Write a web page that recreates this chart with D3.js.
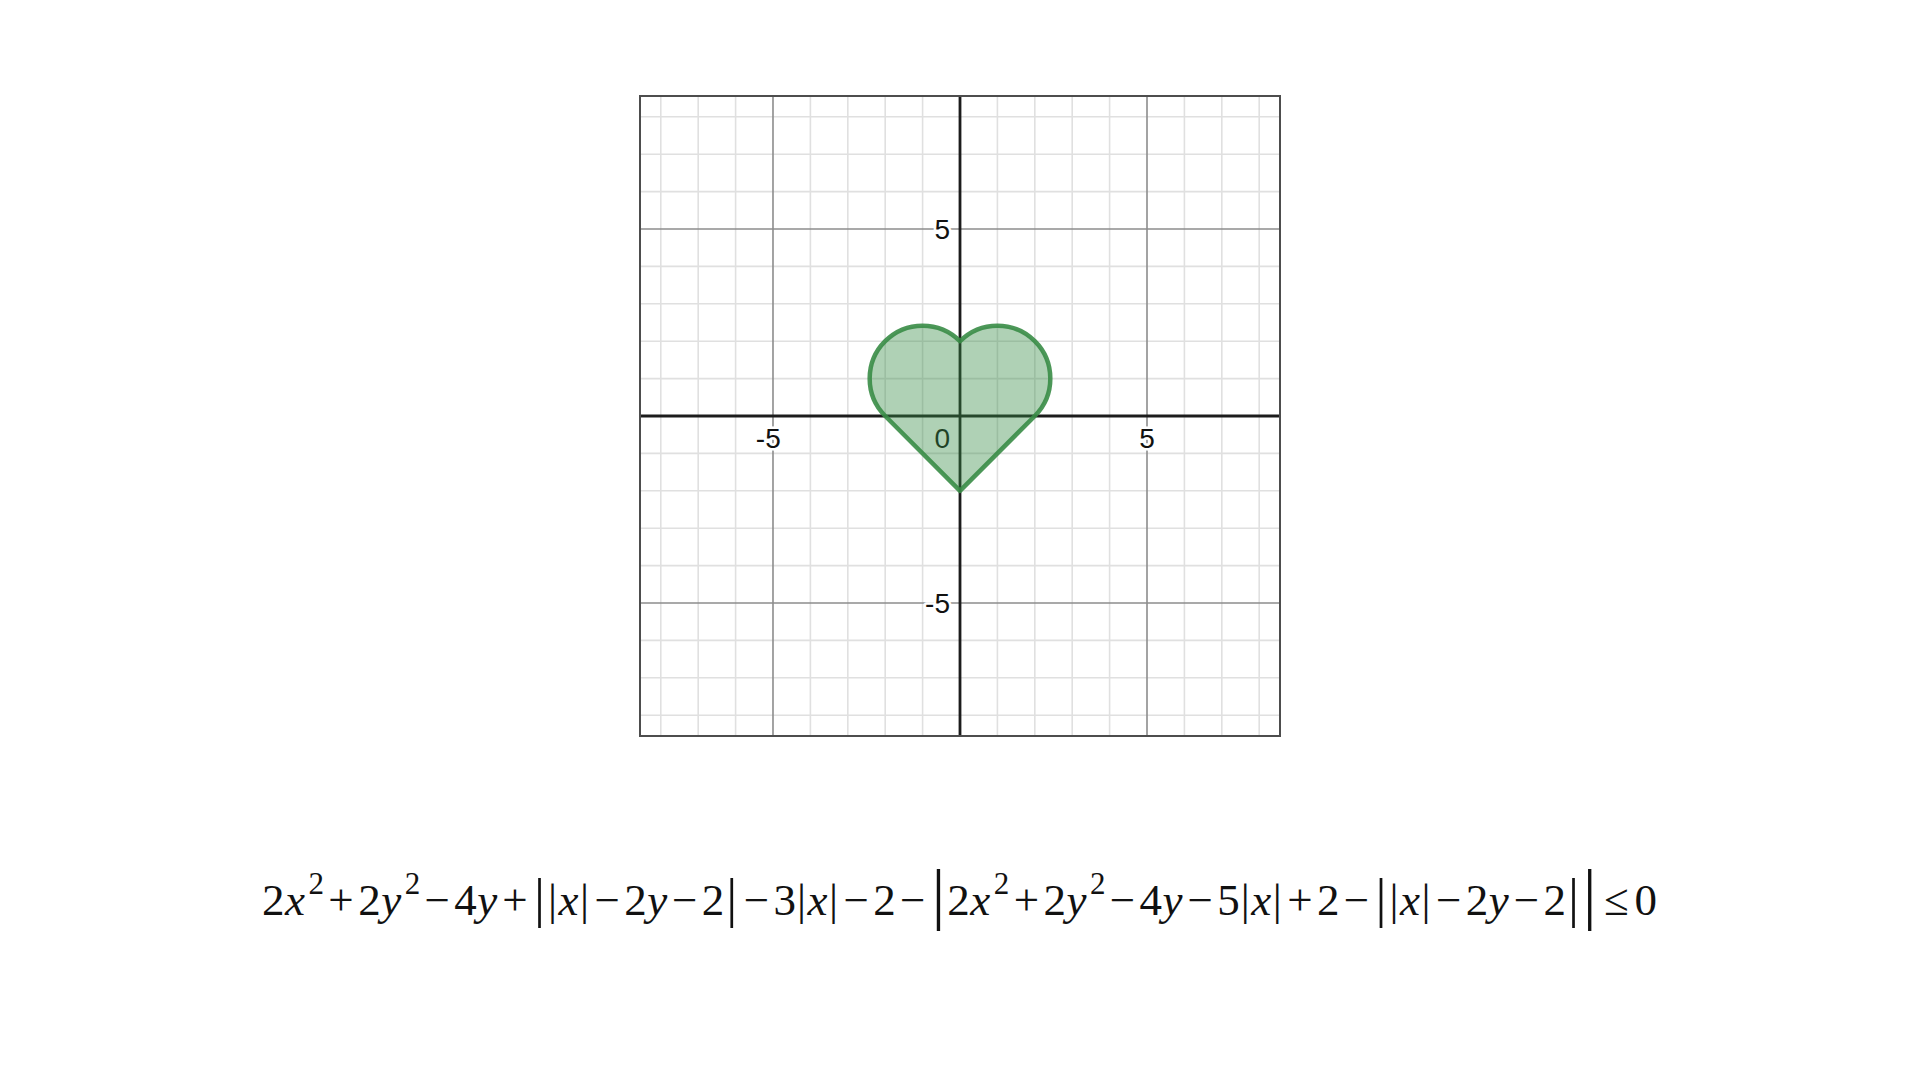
<!DOCTYPE html>
<html>
<head>
<meta charset="utf-8">
<script src="https://cdn.jsdelivr.net/npm/d3@7"></script>
<style>
  html, body { margin: 0; padding: 0; background: #ffffff; }
  svg { display: block; }
</style>
</head>
<body>
<svg id="chart" width="1920" height="1080"></svg>
<script>
// ---------- data ----------
const xDomain = [-8.556, 8.556];
const yDomain = [-8.556, 8.556];
const minorTicks = [-8, -7, -6, -5, -4, -3, -2, -1, 1, 2, 3, 4, 5, 6, 7, 8];
const majorTicks = [-5, 5];
const xTickLabels = ["-5", "0", "5"];
const xTickValues = [-5, 0, 5];
const yTickLabels = ["5", "-5"];
const yTickValues = [5, -5];

// heart region: union of two discs and a triangle (from the inequality)
const lobeCentersX = [-1, 1];
const lobeCenterY = 1;
const lobeRadius = 1.41421356;
const cuspPoint = [0, 2];
const trianglePoints = [[2, 0], [0, -2], [-2, 0]];

// formula tokens: [text, kind]
const formulaTokens = [
  ["2","n"],["x","v"],["2","s"],["+","op"],["2","n"],["y","v"],["2","s"],["\u2212","op"],["4","n"],["y","v"],["+","op"],
  ["|","b1"],["|","b0"],["x","v"],["|","b0"],["\u2212","op"],["2","n"],["y","v"],["\u2212","op"],["2","n"],["|","b1"],
  ["\u2212","op"],["3","n"],["|","b0"],["x","v"],["|","b0"],["\u2212","op"],["2","n"],["\u2212","op"],
  ["|","b2"],["2","n"],["x","v"],["2","s"],["+","op"],["2","n"],["y","v"],["2","s"],["\u2212","op"],["4","n"],["y","v"],
  ["\u2212","op"],["5","n"],["|","b0"],["x","v"],["|","b0"],["+","op"],["2","n"],["\u2212","op"],
  ["|","b1"],["|","b0"],["x","v"],["|","b0"],["\u2212","op"],["2","n"],["y","v"],["\u2212","op"],["2","n"],["|","b1"],["|","b2"],
  ["\u2264","rel"],["0","n"]
];

// ---------- layout ----------
const box = {left: 640, right: 1280, top: 96, bottom: 736};
const svg = d3.select("#chart");
svg.append("rect").attr("width", 1920).attr("height", 1080).attr("fill", "#ffffff");

const sx = d3.scaleLinear().domain(xDomain).range([box.left, box.right]);
const sy = d3.scaleLinear().domain(yDomain).range([box.bottom, box.top]);

const plot = svg.append("g");

// minor grid
const minorOnly = minorTicks.filter(d => !majorTicks.includes(d));
plot.selectAll("line.vminor").data(minorOnly).join("line")
  .attr("x1", d => sx(d)).attr("x2", d => sx(d)).attr("y1", box.top).attr("y2", box.bottom)
  .attr("stroke", "#e0e0e0").attr("stroke-width", 1.6);
plot.selectAll("line.hminor").data(minorOnly).join("line")
  .attr("y1", d => sy(d)).attr("y2", d => sy(d)).attr("x1", box.left).attr("x2", box.right)
  .attr("stroke", "#e0e0e0").attr("stroke-width", 1.6);
// major grid
plot.selectAll("line.vmajor").data(majorTicks).join("line")
  .attr("x1", d => sx(d)).attr("x2", d => sx(d)).attr("y1", box.top).attr("y2", box.bottom)
  .attr("stroke", "#8c8c8c").attr("stroke-width", 1.6);
plot.selectAll("line.hmajor").data(majorTicks).join("line")
  .attr("y1", d => sy(d)).attr("y2", d => sy(d)).attr("x1", box.left).attr("x2", box.right)
  .attr("stroke", "#8c8c8c").attr("stroke-width", 1.6);
// axes
plot.append("line").attr("x1", sx(0)).attr("x2", sx(0)).attr("y1", box.top).attr("y2", box.bottom)
  .attr("stroke", "#1c1c1c").attr("stroke-width", 2.8);
plot.append("line").attr("y1", sy(0)).attr("y2", sy(0)).attr("x1", box.left).attr("x2", box.right)
  .attr("stroke", "#1c1c1c").attr("stroke-width", 2.8);

// tick labels
const labelFont = "'Liberation Sans', Arial, sans-serif";
const LFS = 28;
const labels = plot.append("g").attr("font-family", labelFont).attr("font-size", LFS).attr("fill", "#111")
  .attr("stroke", "#ffffff").attr("stroke-width", 5).attr("paint-order", "stroke").attr("stroke-linejoin", "round");
const digitHalf = LFS * 0.556 / 2;
labels.selectAll("text.xl").data(xTickValues).join("text")
  .attr("text-anchor", "end")
  .attr("x", (d) => d === 0 ? sx(0) - 10 : sx(d) + digitHalf)
  .attr("y", sy(0) + 32)
  .text((d, i) => xTickLabels[i]);
labels.selectAll("text.yl").data(yTickValues).join("text")
  .attr("text-anchor", "end")
  .attr("x", sx(0) - 10)
  .attr("y", d => sy(d) + 10)
  .text((d, i) => yTickLabels[i]);

// heart
const rightC = [lobeCentersX[1], lobeCenterY];
const leftC = [lobeCentersX[0], lobeCenterY];
const ang = (c, p) => Math.atan2(sy(p[1]) - sy(c[1]), sx(p[0]) - sx(c[0]));
const rPx = sx(lobeRadius) - sx(0);
const hp = d3.path();
hp.moveTo(sx(cuspPoint[0]), sy(cuspPoint[1]));
hp.arc(sx(rightC[0]), sy(rightC[1]), rPx, ang(rightC, cuspPoint), ang(rightC, trianglePoints[0]), false);
trianglePoints.forEach(p => hp.lineTo(sx(p[0]), sy(p[1])));
hp.arc(sx(leftC[0]), sy(leftC[1]), rPx, ang(leftC, trianglePoints[2]), ang(leftC, cuspPoint), false);
hp.closePath();
plot.append("path").attr("d", hp.toString())
  .attr("fill", "#388c46").attr("fill-opacity", 0.4)
  .attr("stroke", "#388c46").attr("stroke-opacity", 0.9).attr("stroke-width", 4.5)
  .attr("stroke-linejoin", "round");

// border
plot.append("rect").attr("x", box.left).attr("y", box.top)
  .attr("width", box.right - box.left).attr("height", box.bottom - box.top)
  .attr("fill", "none").attr("stroke", "#4d4d4d").attr("stroke-width", 2);

// ---------- formula ----------
const FS = 45;
const kindStyle = {
  n:  {size: FS, style: "normal", dy: 0, pad: 0},
  v:  {size: FS, style: "italic", dy: 0, pad: 0.5},
  s:  {size: 31, style: "normal", dy: -21, pad: 0},
  op: {size: FS, style: "normal", dy: 0, pad: 0},
  rel:{size: FS, style: "normal", dy: 0, pad: 0},
  b0: {size: 45, style: "normal", dy: 0, pad: 1},
  b1: {size: 55, style: "normal", dy: 1, pad: 2},
  b2: {size: 67, style: "normal", dy: 2, pad: 2}
};
const baseline = 915;
const fx0 = 262, fx1 = 1657;
const fg = svg.append("g").attr("font-family", "'Liberation Serif', 'Times New Roman', serif").attr("fill", "#111");
const nodes = formulaTokens.map(([t, k]) => {
  const st = kindStyle[k];
  const el = fg.append("text").attr("font-size", st.size).attr("font-style", st.style)
    .attr("y", baseline + st.dy).text(t);
  return {el, k, pad: st.pad, w: el.node().getComputedTextLength()};
});
const supGap = 3;
const sumW = d3.sum(nodes, d => d.w + 2 * d.pad) + nodes.filter(d => d.k === "s").length * supGap;
const nOps = nodes.filter(d => d.k === "op").length;
const nRel = nodes.filter(d => d.k === "rel").length;
const gap = (fx1 - fx0 - sumW) / (2 * nOps + 2 * 1.3 * nRel);
let cx = fx0;
nodes.forEach(d => {
  if (d.k === "op") cx += gap;
  if (d.k === "rel") cx += gap * 1.3;
  if (d.k === "s") cx += supGap;
  cx += d.pad;
  d.el.attr("x", cx);
  cx += d.w + d.pad;
  if (d.k === "op") cx += gap;
  if (d.k === "rel") cx += gap * 1.3;
});
</script>
</body>
</html>
